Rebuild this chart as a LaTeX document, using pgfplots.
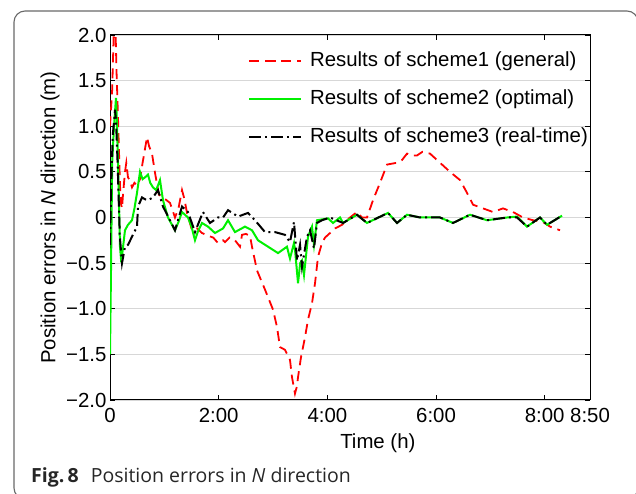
\documentclass[border=0pt]{standalone}
\usepackage{fontspec}
\setmainfont{Liberation Sans}
\newfontfamily\capfont{Open Sans}
\usepackage{pgfplots}
\pgfplotsset{compat=1.18}
\definecolor{pgreen}{RGB}{0,240,0}
\definecolor{pred}{RGB}{255,0,0}
\definecolor{framegray}{RGB}{105,105,105}
\definecolor{gridgray}{RGB}{215,215,215}
\begin{document}
\begin{tikzpicture}[x=1bp,y=1bp]
\useasboundingbox (0,0) rectangle (636,494);
\clip (0,0) rectangle (636,494);
\draw[framegray, line width=1.1bp, rounded corners=11bp] (14,-5) rectangle (638,483);
\node[anchor=base west, inner sep=0pt, text=black!85] at (31,11)
  {\capfont\fontsize{19.5bp}{21bp}\selectfont\textbf{Fig.\,8}\hspace{12bp}Position errors in \textit{N} direction};
\begin{axis}[
  at={(110bp,94bp)}, anchor=south west,
  scale only axis, width=480bp, height=365bp,
  font=\fontsize{20.4bp}{24bp}\selectfont,
  xmin=0, xmax=8.8333, ymin=-2, ymax=2,
  xtick={0,2,4,6,8,8.8333},
  xticklabels={0,2:00,4:00,6:00,8:00,8:50},
  ytick={-2,-1.5,-1,-0.5,0,0.5,1,1.5,2},
  yticklabels={−2.0,−1.5,−1.0,−0.5,0,0.5,1.0,1.5,2.0},
  xticklabel style={yshift=-5bp},
  tick align=inside, major tick length=5bp,
  tick style={black, line width=0.8bp},
  axis line style={black, line width=1bp},
  ymajorgrids, grid style={gridgray, line width=0.9bp},
  xlabel={Time (h)},
  ylabel={Position errors in \textit{N} direction (m)},
  xlabel style={at={(axis description cs:0.558,-0.118)}, anchor=center},
  ylabel style={at={(axis description cs:-0.125,0.5)}, anchor=center},
  legend image post style={xscale=3.05},
  legend style={draw=none, fill=none, at={(axis description cs:0.2875,0.953)}, anchor=north west,
    inner sep=0pt, row sep=20bp, column sep=8bp,
    nodes={inner sep=0pt, text height=14bp, text depth=4bp}},
  legend cell align=left,
]
\addplot[color=pred, line width=1.8bp, dash pattern=on 10bp off 6bp] coordinates {
(0,1.0) (0.04,1.4) (0.07,2.05) (0.10,2.1) (0.12,1.6) (0.147,1.1) (0.184,0.35) (0.202,0.15) (0.221,0.1) (0.239,0.25) (0.276,0.5) (0.30,0.6) (0.331,0.44) (0.37,0.4) (0.405,0.33) (0.45,0.38) (0.497,0.35) (0.552,0.42) (0.60,0.6) (0.681,0.88) (0.72,0.78) (0.773,0.7) (0.828,0.49) (0.90,0.25) (0.975,0.22) (1.104,0.16) (1.196,0.0) (1.26,0.1) (1.325,0.3) (1.37,0.2) (1.417,0.05) (1.509,-0.14) (1.60,-0.12) (1.693,-0.17) (1.803,-0.2) (1.90,-0.22) (1.987,-0.28) (2.08,-0.25) (2.116,-0.27) (2.20,-0.22) (2.30,-0.25) (2.392,-0.32) (2.429,-0.19) (2.50,-0.18) (2.576,-0.2) (2.613,-0.32) (2.705,-0.58) (2.852,-0.79) (3.0,-1.01) (3.073,-1.2) (3.128,-1.42) (3.22,-1.45) (3.312,-1.56) (3.349,-1.75) (3.404,-1.93) (3.44,-1.85) (3.46,-1.75) (3.515,-1.53) (3.589,-1.31) (3.644,-1.12) (3.717,-0.94) (3.773,-0.72) (3.828,-0.43) (3.901,-0.28) (3.957,-0.22) (4.049,-0.17) (4.141,-0.12) (4.27,-0.08) (4.417,0.0) (4.545,0.06) (4.637,0.0) (4.729,0.0) (4.840,0.19) (4.969,0.38) (5.098,0.58) (5.282,0.6) (5.374,0.63) (5.466,0.7) (5.55,0.68) (5.650,0.68) (5.75,0.72) (5.889,0.7) (6.073,0.6) (6.257,0.5) (6.441,0.41) (6.570,0.27) (6.680,0.14) (6.864,0.1) (7.048,0.06) (7.232,0.1) (7.416,0.06) (7.600,0.0) (7.784,-0.03) (7.968,-0.05) (8.097,-0.1) (8.281,-0.14)
};
\addlegendentry{Results of scheme1 (general)}
\addplot[color=pgreen, line width=2bp] coordinates {
(0,-1.5) (0.02,-0.5) (0.04,0.6) (0.074,1.0) (0.11,1.31) (0.13,1.0) (0.16,0.3) (0.184,-0.32) (0.202,-0.45) (0.221,-0.42) (0.276,-0.14) (0.331,-0.08) (0.405,-0.03) (0.45,0.1) (0.497,0.27) (0.552,0.5) (0.60,0.42) (0.644,0.44) (0.699,0.47) (0.74,0.38) (0.791,0.33) (0.85,0.3) (0.92,0.41) (0.975,0.19) (1.067,0.0) (1.196,-0.14) (1.26,-0.05) (1.325,0.06) (1.435,0.0) (1.50,-0.1) (1.564,-0.25) (1.62,-0.15) (1.693,-0.06) (1.803,-0.1) (1.932,-0.17) (2.08,-0.12) (2.172,-0.03) (2.30,-0.16) (2.484,-0.1) (2.613,-0.14) (2.724,-0.25) (2.908,-0.32) (3.092,-0.39) (3.257,-0.32) (3.312,-0.45) (3.386,-0.28) (3.404,-0.35) (3.460,-0.72) (3.50,-0.5) (3.533,-0.47) (3.570,-0.63) (3.644,-0.21) (3.717,-0.1) (3.754,-0.3) (3.809,-0.03) (4.012,-0.01) (4.104,-0.06) (4.233,0.0) (4.288,-0.06) (4.545,0.03) (4.729,-0.06) (5.116,0.05) (5.282,-0.06) (5.466,0.03) (5.705,0.0) (6.073,0.0) (6.312,-0.06) (6.625,0.03) (6.938,-0.03) (7.306,0.0) (7.490,0.01) (7.674,-0.1) (7.913,0.0) (8.042,-0.08) (8.318,0.02)
};
\addlegendentry{Results of scheme2 (optimal)}
\addplot[color=black, line width=2bp, dash pattern=on 12bp off 4bp on 2bp off 4bp] coordinates {
(0,-0.3) (0.02,0.3) (0.05,0.9) (0.074,1.05) (0.092,1.18) (0.11,1.07) (0.14,0.6) (0.18,-0.2) (0.221,-0.5) (0.276,-0.32) (0.331,-0.3) (0.405,-0.21) (0.497,-0.1) (0.515,0.12) (0.589,0.22) (0.644,0.2) (0.699,0.19) (0.791,0.22) (0.883,0.3) (0.975,0.12) (1.104,-0.03) (1.196,-0.14) (1.325,0.12) (1.435,0.06) (1.564,-0.16) (1.711,0.06) (1.840,-0.06) (1.987,0.0) (2.08,0.0) (2.172,0.08) (2.356,0.01) (2.540,0.05) (2.668,-0.03) (2.852,-0.16) (3.036,-0.16) (3.220,-0.19) (3.312,-0.27) (3.386,-0.05) (3.441,-0.47) (3.497,-0.3) (3.533,-0.54) (3.625,-0.21) (3.681,-0.14) (3.754,-0.34) (3.809,-0.06) (3.901,-0.03) (4.049,0.0) (4.288,-0.06) (4.545,0.03) (4.729,-0.06) (5.116,0.05) (5.282,-0.06) (5.466,0.03) (5.705,0.0) (6.073,0.0) (6.312,-0.06) (6.625,0.03) (6.938,-0.03) (7.306,0.0) (7.490,0.0) (7.674,-0.1) (7.913,0.0) (8.042,-0.08) (8.318,0.02)
};
\addlegendentry{Results of scheme3 (real-time)}
\end{axis}
\end{tikzpicture}
\end{document}
